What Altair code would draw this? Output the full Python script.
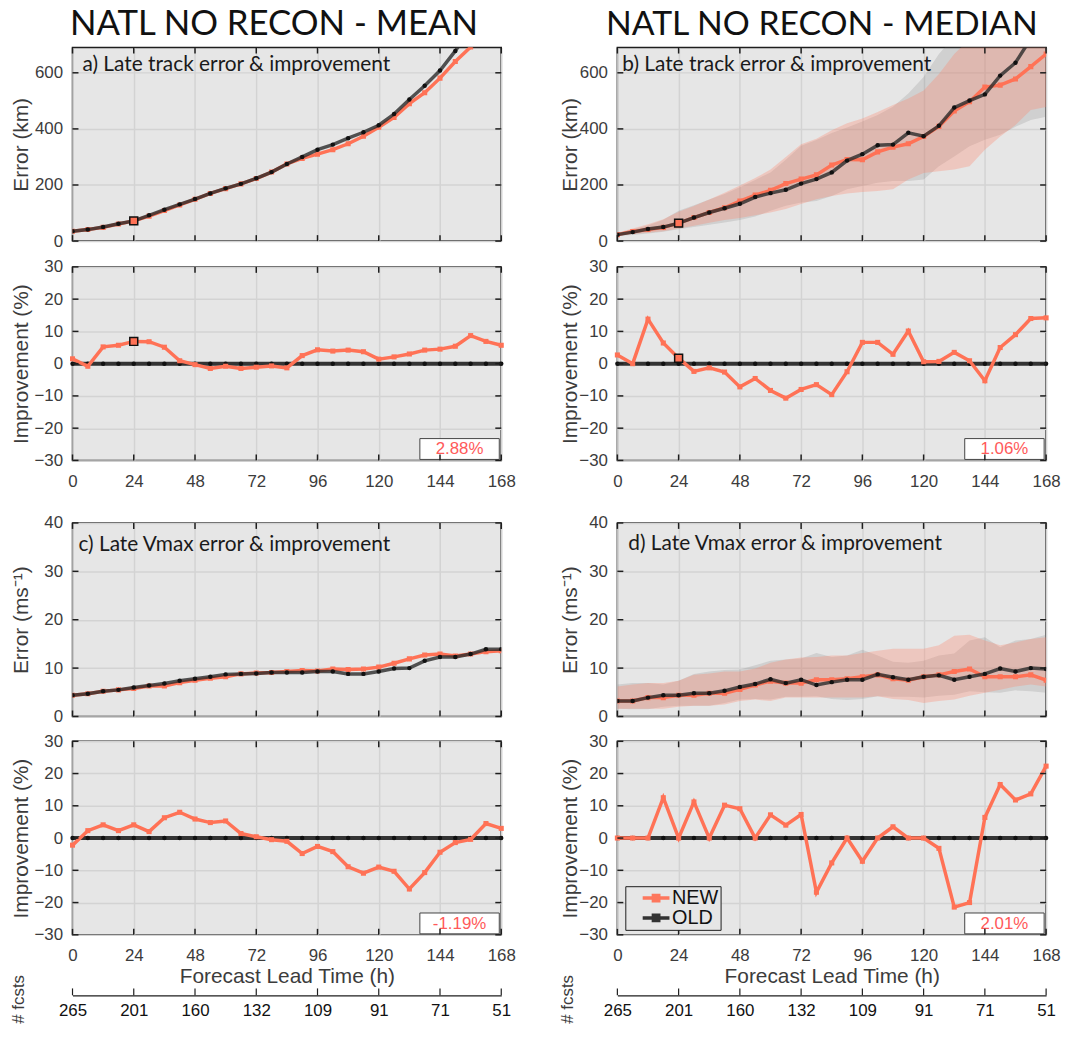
import altair as alt
import pandas as pd

# ---------------- data ----------------
HOURS = [0, 6, 12, 18, 24, 30, 36, 42, 48, 54, 60, 66, 72, 78, 84, 90, 96, 102,
         108, 114, 120, 126, 132, 138, 144, 150, 156, 162, 168]
XTICKS = [0, 24, 48, 72, 96, 120, 144, 168]
FCSTS = [265, 201, 160, 132, 109, 91, 71, 51]

TRACK_TICKS = [0, 200, 400, 600]
IMP_TICKS = [-30, -20, -10, 0, 10, 20, 30]
VMAX_TICKS = [0, 10, 20, 30, 40]

col_titles = ["NATL NO RECON - MEAN", "NATL NO RECON - MEDIAN"]
panel_labels = ["a) Late track error & improvement", "b) Late track error & improvement",
                "c) Late Vmax error & improvement", "d) Late Vmax error & improvement"]
pct_labels = ["2.88%", "1.06%", "-1.19%", "2.01%"]
series_names = ["NEW", "OLD"]
zero_imp = [0, 0, 0, 0, 0, 0, 0, 0, 0, 0, 0, 0, 0, 0, 0, 0, 0, 0, 0, 0, 0, 0, 0, 0, 0, 0, 0, 0, 0]

# a) mean track error (km)
a_new = [35, 41, 49, 61, 72, 89, 109, 129, 149, 170, 187, 204, 223, 246, 275, 295, 310, 326,
         347, 374, 406, 441, 490, 529, 581, 640, 692, 760, 830]
a_old = [35, 41, 50, 62, 72, 92, 112, 131, 150, 170, 188, 204, 224, 246, 275, 300, 326, 344,
         367, 388, 413, 453, 505, 554, 608, 678, 758, 816, 880]
a_imp = [1.5, -0.8, 5.2, 5.7, 6.9, 6.8, 5.1, 0.9, -0.3, -1.5, -0.8, -1.5, -1.1, -0.7, -1.3,
         2.5, 4.3, 3.9, 4.2, 3.7, 1.4, 2.1, 3.0, 4.2, 4.5, 5.4, 8.7, 6.9, 5.7]

# b) median track error (km) with interquartile bands
b_new = [23, 34, 41, 49, 64, 84, 102, 119, 143, 164, 181, 205, 221, 236, 271, 291, 290, 318,
         335, 347, 373, 409, 464, 497, 549, 556, 578, 622, 667]
b_old = [23, 32, 43, 50, 64, 84, 102, 117, 133, 157, 171, 183, 205, 221, 245, 287, 310, 342,
         344, 386, 374, 411, 476, 501, 523, 590, 636, 722, 777]
b_new_lo = [20, 25, 30, 35, 45, 55, 65, 75, 82, 92, 102, 114, 132, 149, 161, 170, 175, 179,
            185, 220, 243, 249, 255, 267, 326, 373, 414, 467, 478]
b_new_hi = [30, 45, 60, 78, 105, 125, 148, 172, 198, 225, 255, 300, 345, 365, 395, 420, 437, 460,
            485, 508, 537, 596, 667, 720, 760, 800, 850, 900, 950]
b_old_lo = [18, 22, 27, 33, 42, 50, 58, 66, 75, 88, 108, 126, 138, 143, 161, 185, 196, 208,
            214, 214, 220, 267, 302, 338, 361, 379, 408, 432, 443]
b_old_hi = [28, 42, 56, 76, 108, 128, 148, 168, 192, 218, 245, 290, 340, 360, 385, 405, 426, 450,
            479, 526, 585, 667, 730, 780, 820, 860, 900, 950, 1000]
b_imp = [2.7, 0.0, 13.8, 6.4, 1.7, -2.4, -1.3, -2.6, -7.2, -4.6, -8.3, -10.7, -8.0, -6.5, -9.6,
         -2.5, 6.6, 6.6, 2.9, 10.1, 0.6, 0.7, 3.5, 0.9, -5.3, 5.0, 9.0, 14.0, 14.2]

# c) mean Vmax error (m/s)
c_new = [4.4, 4.7, 5.2, 5.5, 5.8, 6.3, 6.3, 7.0, 7.5, 7.9, 8.2, 8.8, 9.0, 9.1, 9.3, 9.5, 9.4, 9.8,
         9.7, 9.8, 10.2, 11.0, 11.9, 12.7, 12.9, 12.5, 12.9, 13.4, 13.6]
c_old = [4.4, 4.7, 5.2, 5.5, 6.0, 6.4, 6.8, 7.4, 7.8, 8.2, 8.7, 8.8, 8.9, 9.1, 9.1, 9.1, 9.3, 9.3,
         8.8, 8.8, 9.3, 9.9, 10.0, 11.5, 12.3, 12.3, 12.9, 13.9, 13.9]
c_imp = [-2.2, 2.3, 4.1, 2.3, 4.1, 2.0, 6.3, 8.0, 5.9, 4.8, 5.3, 1.4, 0.4, -0.5, -1.0, -4.8, -2.6,
         -4.2, -8.9, -10.9, -9.0, -10.3, -15.8, -10.7, -4.4, -1.4, -0.4, 4.5, 3.0]

# d) median Vmax error (m/s) with interquartile bands
d_new = [3.2, 3.2, 3.9, 3.9, 4.4, 4.4, 4.8, 4.8, 5.6, 6.5, 7.3, 6.9, 6.9, 7.6, 7.6, 7.8, 8.2, 8.6,
         7.8, 7.5, 8.2, 8.6, 9.3, 9.8, 8.2, 8.2, 8.2, 8.6, 7.5]
d_old = [3.2, 3.2, 3.9, 4.4, 4.4, 4.8, 4.8, 5.3, 6.1, 6.7, 7.7, 6.9, 7.6, 6.5, 7.1, 7.6, 7.6, 8.7,
         8.1, 7.6, 8.2, 8.5, 7.6, 8.2, 8.8, 9.9, 9.3, 10.0, 9.8]
d_new_lo = [1.6, 1.6, 1.6, 1.6, 2.0, 2.2, 2.2, 2.5, 3.2, 3.5, 3.2, 3.9, 3.9, 3.9, 3.9, 3.9, 3.9, 4.2,
            3.6, 3.4, 2.8, 3.2, 3.5, 4.3, 4.9, 5.5, 6.2, 6.6, 6.2]
d_new_hi = [6.2, 6.6, 6.9, 6.9, 7.4, 8.6, 8.9, 9.3, 9.3, 9.9, 11.1, 11.8, 12.2, 12.3, 12.6, 12.6, 13.1,
            13.6, 14.0, 14.0, 14.0, 14.7, 16.7, 16.9, 15.7, 14.7, 15.3, 16.0, 16.4]
d_old_lo = [1.6, 1.5, 1.5, 2.0, 2.2, 2.2, 2.2, 2.8, 3.5, 3.6, 3.5, 4.1, 4.1, 4.2, 3.6, 3.4, 3.6, 4.2,
            4.1, 4.1, 3.9, 4.3, 4.5, 5.2, 5.0, 4.9, 5.4, 5.2, 4.9]
d_old_hi = [6.6, 6.9, 6.9, 6.6, 7.4, 8.8, 9.3, 9.6, 9.7, 10.6, 11.5, 11.8, 12.0, 13.1, 12.3, 12.6, 13.8,
            12.6, 11.3, 11.1, 11.5, 12.6, 13.0, 15.7, 16.4, 14.3, 15.7, 16.0, 16.9]
d_imp = [0, 0, 0, 12.5, 0, 11.2, 0, 10.2, 9.1, 0, 7.2, 4.0, 7.3, -16.8, -7.7, 0, -7.2, 0, 3.5, 0,
         0, -3.2, -21.4, -20.0, 6.4, 16.6, 11.8, 13.7, 22.3]

# ---------------- style ----------------
RED = "#ff7256"
DARK = "#2a2a2a"
BG = "#e6e6e6"
GRID = "#d3d3d3"
FRAME = "#1e1e1e"
TXT = "#3c3c3c"
AXF = "Liberation Sans"
LBLF = "Lato"
W = 432
H = 195
CLEAR = alt.ViewBackground(fill="transparent", stroke="transparent", strokeWidth=0)


def xenc(labels=False, title=None):
    ax = dict(values=XTICKS, grid=True, gridColor=GRID, gridWidth=1.5, ticks=False, domain=False,
              labels=labels, labelFlush=False, labelFont=AXF, labelFontSize=17, labelColor=TXT,
              labelPadding=13, title=title, titleFont=AXF, titleFontSize=21,
              titleFontWeight="normal", titleColor=TXT, titlePadding=2)
    return alt.X("hour:Q", scale=alt.Scale(domain=[0, 168], nice=False, zero=False),
                 axis=alt.Axis(**ax))


def yenc(domain, ticks, title, title_x):
    ax = dict(values=ticks, grid=True, gridColor=GRID, gridWidth=1.5, ticks=False, domain=False,
              labelFlush=False, labelOverlap=False, labelFont=AXF, labelFontSize=17,
              labelColor=TXT, labelPadding=10,
              title=title, titleFont=AXF, titleFontSize=21, titleFontWeight="normal",
              titleColor=TXT, titleX=title_x, titleY=H / 2, titleAngle=270,
              titleAlign="center", titleBaseline="middle")
    return alt.Y("value:Q", scale=alt.Scale(domain=domain, nice=False, zero=False),
                 axis=alt.Axis(**ax))


def tick_layers(xe, ye, yticks):
    dfx = pd.DataFrame({"hour": XTICKS})
    dfy = pd.DataFrame({"value": yticks})
    bx = alt.Chart(dfx).mark_rule(color=FRAME, strokeWidth=1.5)
    by = alt.Chart(dfy).mark_rule(color=FRAME, strokeWidth=1.5)
    return [
        bx.encode(x=xe, y=alt.value(0), y2=alt.value(6)),
        bx.encode(x=xe, y=alt.value(H - 6), y2=alt.value(H)),
        by.encode(y=ye, x=alt.value(0), x2=alt.value(6)),
        by.encode(y=ye, x=alt.value(W - 6), x2=alt.value(W)),
    ]


def text_layer(text, lx, ly, font, size, color, align="left", baseline="middle", angle=0):
    return alt.Chart(pd.DataFrame({"t": [text]})).mark_text(
        align=align, baseline=baseline, font=font, fontSize=size, color=color, angle=angle
    ).encode(x=alt.value(lx), y=alt.value(ly), text="t:N")


def err_panel(new, old, domain, ticks, ytitle, title_x, label, lxy, bands=None,
              mark24=False, col_title=None, title_cx=204, title_size=35):
    xe = xenc(False)
    ye = yenc(domain, ticks, ytitle, title_x)
    dn = pd.DataFrame({"hour": HOURS, "value": new})
    do = pd.DataFrame({"hour": HOURS, "value": old})
    layers = []
    if bands is not None:
        olo, ohi, nlo, nhi = bands
        dbo = pd.DataFrame({"hour": HOURS, "value": olo, "hi": ohi})
        dbn = pd.DataFrame({"hour": HOURS, "value": nlo, "hi": nhi})
        layers.append(alt.Chart(dbo).mark_area(clip=True, color="#7a7a7a", opacity=0.2)
                      .encode(x=xe, y=ye, y2="hi:Q"))
        layers.append(alt.Chart(dbn).mark_area(clip=True, color="#ff8066", opacity=0.3)
                      .encode(x=xe, y=ye, y2="hi:Q"))
    layers += [
        alt.Chart(dn).mark_line(clip=True, color=RED, strokeWidth=3.5).encode(x=xe, y=ye),
        alt.Chart(dn).mark_point(clip=True, shape="square", filled=True, size=26, color=RED,
                                 opacity=1).encode(x=xe, y=ye),
        alt.Chart(do).mark_line(clip=True, color=DARK, strokeWidth=3.5, opacity=0.8).encode(x=xe, y=ye),
        alt.Chart(do).mark_point(clip=True, shape="circle", filled=True, size=20, color="#111",
                                 opacity=1).encode(x=xe, y=ye),
    ]
    if mark24:
        layers.append(alt.Chart(dn[dn.hour == 24]).mark_point(
            shape="square", filled=True, fill=RED, stroke="#111", strokeWidth=1.5, size=64,
            opacity=1).encode(x=xe, y=ye))
    layers.append(text_layer(label, lxy[0], lxy[1], LBLF, 21, "#1a1a1a"))
    if col_title:
        layers.append(text_layer(col_title, title_cx, -13, LBLF, title_size, "#111",
                                 align="center", baseline="alphabetic"))
    layers += tick_layers(xe, ye, ticks)
    return alt.layer(*layers).properties(width=W, height=H)


def imp_panel(imp, title_x, pct, mark24=False, xtitle=None, legend=False):
    xe = xenc(True, xtitle)
    ye = yenc([-30, 30], IMP_TICKS, "Improvement (%)", title_x)
    dn = pd.DataFrame({"hour": HOURS, "value": imp, "series": series_names[0]})
    do = pd.DataFrame({"hour": HOURS, "value": zero_imp, "series": series_names[1]})
    if legend:
        col = alt.Color("series:N",
                        scale=alt.Scale(domain=series_names, range=[RED, DARK]),
                        legend=alt.Legend(
                            orient="none", legendX=557, legendY=845, direction="vertical",
                            title=None, labelFont=AXF, labelFontSize=20, labelColor="#111",
                            labelExpr="datum.label + '\u2003'",
                            symbolType="M-2,0L2,0M-0.4,-0.4L0.4,-0.4L0.4,0.4L-0.4,0.4Z",
                            symbolSize=182, symbolStrokeWidth=3.5, symbolOffset=19,
                            labelOffset=6, rowPadding=0, padding=2,
                            strokeColor=FRAME, fillColor=BG, cornerRadius=0))
        line_o = alt.Chart(do).mark_line(strokeWidth=4, opacity=0.95).encode(x=xe, y=ye, color=col)
        line_n = alt.Chart(dn).mark_line(strokeWidth=3.5).encode(x=xe, y=ye, color=col)
    else:
        line_o = alt.Chart(do).mark_line(color=DARK, strokeWidth=4, opacity=0.95).encode(x=xe, y=ye)
        line_n = alt.Chart(dn).mark_line(color=RED, strokeWidth=3.5).encode(x=xe, y=ye)
    layers = [
        line_o,
        alt.Chart(do).mark_point(shape="circle", filled=True, size=20, color="#111", opacity=1)
        .encode(x=xe, y=ye),
        line_n,
        alt.Chart(dn).mark_point(shape="square", filled=True, size=26, color=RED, opacity=1)
        .encode(x=xe, y=ye),
    ]
    if mark24:
        layers.append(alt.Chart(dn[dn.hour == 24]).mark_point(
            shape="square", filled=True, fill=RED, stroke="#111", strokeWidth=1.5, size=64,
            opacity=1).encode(x=xe, y=ye))
    dp = pd.DataFrame({"t": [pct]})
    layers.append(alt.Chart(dp).mark_rect(fill="white", stroke="#444", strokeWidth=1).encode(
        x=alt.value(350), x2=alt.value(430), y=alt.value(173), y2=alt.value(194)))
    layers.append(alt.Chart(dp).mark_text(font=AXF, fontSize=17, color="#ff5a5a",
                                          align="center", baseline="middle").encode(
        x=alt.value(390), y=alt.value(184), text="t:N"))
    layers += tick_layers(xe, ye, IMP_TICKS)
    return alt.layer(*layers).properties(width=W, height=H)


def fcst_panel(title_x):
    expr = "[" + ",".join("'%d'" % n for n in FCSTS) + "][round(datum.value / 24)]"
    xe = alt.X("hour:Q", scale=alt.Scale(domain=[0, 168], nice=False, zero=False),
               axis=alt.Axis(values=XTICKS, grid=False, ticks=False, domain=True,
                             domainColor=FRAME, domainWidth=1.2, labelExpr=expr,
                             labelFlush=False, labelFont=AXF, labelFontSize=17,
                             labelColor="#111", labelPadding=7, title=None))
    dfx = pd.DataFrame({"hour": XTICKS})
    tk = alt.Chart(dfx).mark_rule(color=FRAME, strokeWidth=1.2).encode(
        x=xe, y=alt.value(-1), y2=alt.value(6))
    txt = text_layer("# fcsts", title_x, 10, AXF, 17, TXT, align="center", angle=270)
    return alt.layer(tk, txt).properties(width=W, height=6, view=CLEAR)


def spacer(h):
    return alt.Chart(pd.DataFrame({"t": [""]})).mark_text().encode(
        text="t:N").properties(width=W, height=h, view=CLEAR)


panels = [
    err_panel(a_new, a_old, [0, 690], TRACK_TICKS, "Error (km)", -51, panel_labels[0], (10, 18),
              mark24=True, col_title=col_titles[0], title_cx=203),
    err_panel(b_new, b_old, [0, 690], TRACK_TICKS, "Error (km)", -47, panel_labels[1], (5, 18),
              bands=(b_old_lo, b_old_hi, b_new_lo, b_new_hi), mark24=True,
              col_title=col_titles[1], title_cx=206, title_size=34),
    spacer(26), spacer(26),
    imp_panel(a_imp, -51, pct_labels[0], mark24=True),
    imp_panel(b_imp, -47, pct_labels[1], mark24=True),
    spacer(63), spacer(63),
    err_panel(c_new, c_old, [0, 40], VMAX_TICKS, "Error (ms⁻¹)", -51, panel_labels[2], (6, 22)),
    err_panel(d_new, d_old, [0, 40], VMAX_TICKS, "Error (ms⁻¹)", -47, panel_labels[3], (11, 21),
              bands=(d_old_lo, d_old_hi, d_new_lo, d_new_hi)),
    spacer(25), spacer(25),
    imp_panel(c_imp, -51, pct_labels[2], xtitle="Forecast Lead Time (h)"),
    imp_panel(d_imp, -47, pct_labels[3], xtitle="Forecast Lead Time (h)", legend=True),
    spacer(55), spacer(55),
    fcst_panel(-54), fcst_panel(-50),
]

chart = alt.concat(*panels, columns=2, spacing={"row": 0, "column": 117},
                   bounds="flush").configure_view(
    fill=BG, stroke=FRAME, strokeWidth=1.5
).properties(padding={"left": 2, "top": -6, "right": 0, "bottom": -3}, background="white")

chart.save("out.html", embed_options={"renderer": "svg", "actions": False})
